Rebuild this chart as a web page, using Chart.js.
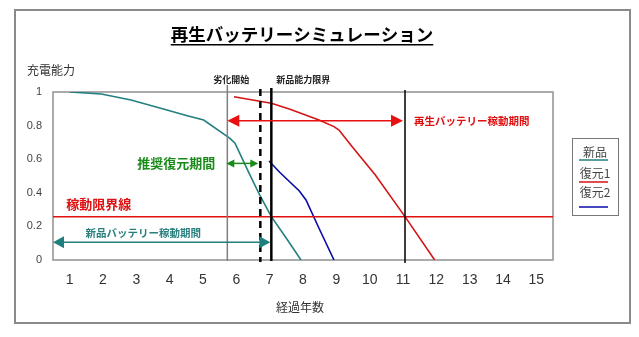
<!DOCTYPE html>
<html>
<head>
<meta charset="utf-8">
<script src="https://cdn.jsdelivr.net/npm/chart.js@4.4.1/dist/chart.umd.min.js"></script>
<style>
  html, body { margin: 0; padding: 0; background: #fff; }
  #wrap { width: 639px; height: 337px; position: relative; }
</style>
</head>
<body>
<div id="wrap"><canvas id="chart"></canvas></div>
<script>
// データ（読み取り値）
const years = [1, 2, 3, 4, 5, 6, 7, 8, 9, 10, 11, 12, 13, 14, 15];
const yTicks = [0, 0.2, 0.4, 0.6, 0.8, 1];

const shinpinX = [1, 1.95, 2.84, 3.73, 4.53, 5.02, 5.81, 5.96, 6.36, 6.70, 7.05, 7.50, 7.94];
const shinpinY = [1, 0.988, 0.952, 0.903, 0.859, 0.833, 0.724, 0.695, 0.526, 0.387, 0.258, 0.129, 0];

const fukugen1X = [5.93, 7.05, 7.59, 8.48, 8.93, 9.08, 9.47, 10.17, 11.06, 11.95];
const fukugen1Y = [0.972, 0.933, 0.899, 0.833, 0.794, 0.774, 0.675, 0.506, 0.258, 0];

const fukugen2X = [6.98, 7.30, 7.89, 8.09, 8.48, 8.93];
const fukugen2Y = [0.589, 0.522, 0.411, 0.357, 0.189, 0];

const seriesNames = ["新品", "復元1", "復元2"];

// 目印の年と限界値
const rekkaStart = 5.73;      // 劣化開始
const recommendEnd = 6.72;    // 推奨復元期間の終わり（破線）
const shinpinLimit = 7.05;    // 新品能力限界
const saiseiLimit = 11.06;    // 再生バッテリー限界
const limitLevel = 0.258;     // 稼動限界線

const JP = '"Noto Sans CJK JP", "Noto Sans", sans-serif';
const toPts = (xs, ys) => xs.map((x, i) => ({ x: x, y: ys[i] }));

Chart.defaults.font.family = '"Liberation Sans", "DejaVu Sans", sans-serif';

function arrow(ctx, x1, x2, y, color, head, half) {
  ctx.save();
  ctx.strokeStyle = color;
  ctx.fillStyle = color;
  ctx.lineWidth = 1.5;
  ctx.beginPath();
  ctx.moveTo(x1 + head - 1, y);
  ctx.lineTo(x2 - head + 1, y);
  ctx.stroke();
  ctx.beginPath();
  ctx.moveTo(x1, y);
  ctx.lineTo(x1 + head, y - half);
  ctx.lineTo(x1 + head, y + half);
  ctx.closePath();
  ctx.fill();
  ctx.beginPath();
  ctx.moveTo(x2, y);
  ctx.lineTo(x2 - head, y - half);
  ctx.lineTo(x2 - head, y + half);
  ctx.closePath();
  ctx.fill();
  ctx.restore();
}

function txt(ctx, s, x, y, font, color, align) {
  ctx.save();
  ctx.font = font;
  ctx.fillStyle = color;
  ctx.textAlign = align || "left";
  ctx.textBaseline = "middle";
  ctx.fillText(s, x, y);
  ctx.restore();
}

const decor = {
  id: "decor",
  beforeDraw(chart) {
    const { ctx, chartArea: a } = chart;
    ctx.save();
    ctx.fillStyle = "#fff";
    ctx.fillRect(0, 0, chart.width, chart.height);
    // 外枠
    ctx.strokeStyle = "#8a8a8a";
    ctx.lineWidth = 2;
    ctx.strokeRect(15, 10, 615, 313);
    // プロット枠
    ctx.strokeStyle = "#909090";
    ctx.lineWidth = 1.5;
    ctx.strokeRect(a.left, a.top, a.right - a.left, a.bottom - a.top);
    ctx.restore();
  },
  afterDatasetsDraw(chart) {
    const { ctx, chartArea: a } = chart;
    const xs = chart.scales.x, ys = chart.scales.y;
    const px = v => xs.getPixelForValue(v);
    const py = v => ys.getPixelForValue(v);

    ctx.save();
    // 稼動限界線
    ctx.strokeStyle = "#e01010";
    ctx.lineWidth = 1.5;
    ctx.beginPath();
    ctx.moveTo(a.left, py(limitLevel));
    ctx.lineTo(a.right, py(limitLevel));
    ctx.stroke();

    // 縦線
    ctx.strokeStyle = "#808080";
    ctx.lineWidth = 1.5;
    ctx.beginPath();
    ctx.moveTo(px(rekkaStart), a.top - 7);
    ctx.lineTo(px(rekkaStart), a.bottom + 1);
    ctx.stroke();

    ctx.strokeStyle = "#000";
    ctx.lineWidth = 2.5;
    ctx.setLineDash([7, 5]);
    ctx.beginPath();
    ctx.moveTo(px(recommendEnd), a.top - 3);
    ctx.lineTo(px(recommendEnd), a.bottom + 2);
    ctx.stroke();
    ctx.setLineDash([]);

    ctx.beginPath();
    ctx.moveTo(px(shinpinLimit), a.top - 4);
    ctx.lineTo(px(shinpinLimit), a.bottom + 1);
    ctx.stroke();

    ctx.lineWidth = 1.5;
    ctx.beginPath();
    ctx.moveTo(px(saiseiLimit), a.top - 2);
    ctx.lineTo(px(saiseiLimit), a.bottom + 3);
    ctx.stroke();
    ctx.restore();

    // 矢印
    arrow(ctx, px(rekkaStart), px(saiseiLimit) - 2, py(0.829), "#e81010", 12, 6);
    arrow(ctx, px(rekkaStart) - 1, px(recommendEnd) - 2, py(0.575), "#1a8a1a", 8, 4);
    arrow(ctx, a.left, px(shinpinLimit) - 1, py(0.105), "#1f7f7f", 11, 6);

    // 注記
    txt(ctx, "再生バッテリー稼動期間", px(saiseiLimit) + 9, py(0.829), "bold 10.5px " + JP, "#e01010");
    txt(ctx, "推奨復元期間", px(rekkaStart) - 12, py(0.575), "bold 13px " + JP, "#1a8a1a", "right");
    txt(ctx, "稼動限界線", px(0.9), py(0.333), "bold 13px " + JP, "#e01010");
    txt(ctx, "新品バッテリー稼動期間", px(3.21), py(0.16), "bold 10.5px " + JP, "#2a7f7f", "center");
    txt(ctx, "劣化開始", px(rekkaStart) + 4, 80, "bold 9px " + JP, "#222", "center");
    txt(ctx, "新品能力限界", px(shinpinLimit) + 5, 80, "bold 9px " + JP, "#222", "left");
  },
  afterDraw(chart) {
    const { ctx } = chart;
    // タイトル
    ctx.save();
    ctx.font = "bold 17.5px " + JP;
    ctx.fillStyle = "#000";
    ctx.textBaseline = "middle";
    ctx.textAlign = "center";
    const title = "再生バッテリーシミュレーション";
    const tx = 302, ty = 34;
    ctx.fillText(title, tx, ty);
    const w = ctx.measureText(title).width;
    ctx.fillRect(tx - w / 2, ty + 10, w, 1.5);
    ctx.restore();

    txt(ctx, "充電能力", 27, 70, "12px " + JP, "#333");
    txt(ctx, "経過年数", 300, 307, "12px " + JP, "#333", "center");

    // 凡例
    const colors = chart.data.datasets.map(d => d.borderColor);
    ctx.save();
    ctx.strokeStyle = "#777";
    ctx.lineWidth = 1;
    ctx.strokeRect(572.5, 138.5, 46, 77);
    ctx.restore();
    const rows = [152, 173, 192];
    const lines = [160, 182, 207];
    seriesNames.forEach((n, i) => {
      txt(ctx, n, 595, rows[i], "12px " + JP, "#444", "center");
      ctx.save();
      ctx.strokeStyle = colors[i];
      ctx.lineWidth = 1.5;
      ctx.beginPath();
      ctx.moveTo(579, lines[i]);
      ctx.lineTo(608, lines[i]);
      ctx.stroke();
      ctx.restore();
    });
  }
};

const ctx = document.getElementById("chart").getContext("2d");
new Chart(ctx, {
  type: "line",
  data: {
    datasets: [
      { label: seriesNames[0], data: toPts(shinpinX, shinpinY), borderColor: "#237f7f", borderWidth: 1.6 },
      { label: seriesNames[1], data: toPts(fukugen1X, fukugen1Y), borderColor: "#d41414", borderWidth: 1.6 },
      { label: seriesNames[2], data: toPts(fukugen2X, fukugen2Y), borderColor: "#0a0aa8", borderWidth: 1.6 }
    ]
  },
  options: {
    responsive: true,
    maintainAspectRatio: false,
    animation: false,
    elements: { point: { radius: 0 }, line: { tension: 0 } },
    layout: { padding: { top: 92, right: 86, left: 0, bottom: 0 } },
    plugins: { legend: { display: false }, tooltip: { enabled: false } },
    scales: {
      x: {
        type: "linear",
        min: 0.5,
        max: 15.5,
        afterBuildTicks: s => { s.ticks = years.map(v => ({ value: v })); },
        afterFit: s => { s.height = 77; },
        grid: { display: false, drawTicks: false },
        border: { display: false },
        ticks: { padding: 12, color: "#333", font: { size: 14 }, callback: v => String(v) }
      },
      y: {
        min: 0,
        max: 1,
        afterBuildTicks: s => { s.ticks = yTicks.map(v => ({ value: v })); },
        afterFit: s => { s.width = 53; },
        grid: { display: false, drawTicks: false },
        border: { display: false },
        ticks: { padding: 11, color: "#444", font: { size: 11 }, callback: v => String(Math.round(v * 10) / 10) }
      }
    }
  },
  plugins: [decor]
});
</script>
</body>
</html>
